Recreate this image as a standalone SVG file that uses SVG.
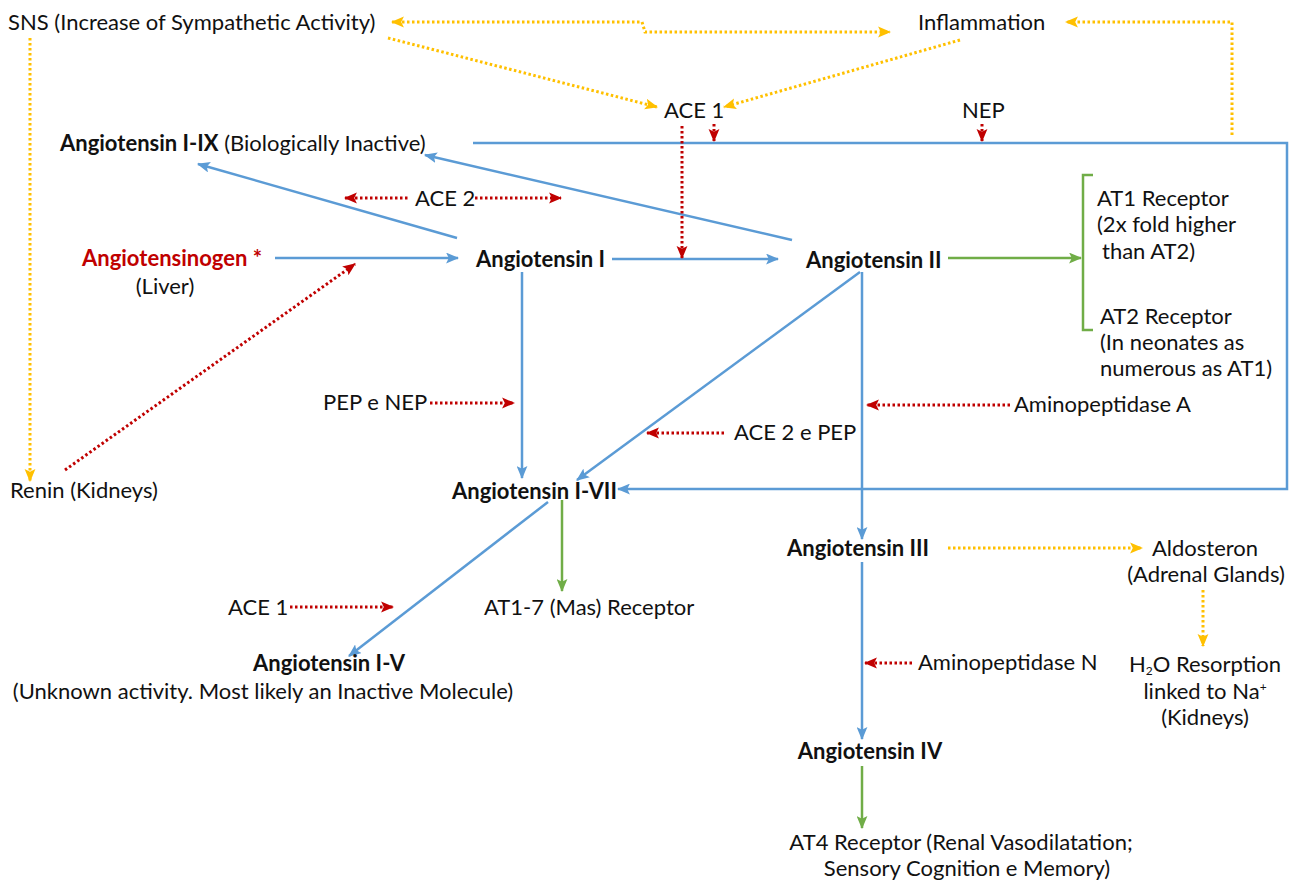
<svg xmlns="http://www.w3.org/2000/svg" width="1289" height="881" viewBox="0 0 1289 881">
<style>
text{font-family:Lato,"Liberation Sans",sans-serif;font-size:22px;fill:#111}
.b{font-weight:bold}
.r{fill:#c00000}
.m{text-anchor:middle}
.blue{stroke:#5b9bd5;stroke-width:2.5;fill:none}
.green{stroke:#70ad47;stroke-width:2.5;fill:none}
.yel{stroke:#ffc000;stroke-width:3;fill:none;stroke-dasharray:2.5 2.5}
.red{stroke:#c00000;stroke-width:3;fill:none;stroke-dasharray:2.5 2.5}
</style>
<defs>
<marker id="ab" viewBox="0 0 12 10" refX="11" refY="5" markerWidth="13" markerHeight="11" markerUnits="userSpaceOnUse" orient="auto-start-reverse"><path d="M0,0 L12,5 L0,10 L2.5,5 z" fill="#5b9bd5"/></marker>
<marker id="ag" viewBox="0 0 12 10" refX="11" refY="5" markerWidth="13" markerHeight="11" markerUnits="userSpaceOnUse" orient="auto-start-reverse"><path d="M0,0 L12,5 L0,10 L2.5,5 z" fill="#70ad47"/></marker>
<marker id="ay" viewBox="0 0 12 10" refX="11" refY="5" markerWidth="13" markerHeight="12" markerUnits="userSpaceOnUse" orient="auto-start-reverse"><path d="M0,0 L12,5 L0,10 L2.5,5 z" fill="#ffc000"/></marker>
<marker id="ar" viewBox="0 0 12 10" refX="11" refY="5" markerWidth="13" markerHeight="13" markerUnits="userSpaceOnUse" orient="auto-start-reverse"><path d="M0,0 L12,5 L0,10 L2.5,5 z" fill="#c00000"/></marker>
</defs>
<rect width="1289" height="881" fill="#fff"/>
<g id="connectors">
<path class="yel" d="M392,22 H642 L645,32 H890" marker-start="url(#ay)" marker-end="url(#ay)"/>
<path class="yel" d="M1232,135 V22 H1066" marker-end="url(#ay)"/>
<path class="yel" d="M388,38 L657,107" marker-end="url(#ay)"/>
<path class="yel" d="M960,40 L724,107" marker-end="url(#ay)"/>
<path class="yel" d="M30,38 V481" marker-end="url(#ay)"/>
<path class="yel" d="M948,548 H1142" marker-end="url(#ay)"/>
<path class="yel" d="M1203,590 V646" marker-end="url(#ay)"/>
<path class="blue" d="M473,143 H1287 V489 H618" marker-end="url(#ab)"/>
<path class="blue" d="M457,238 L198,164" marker-end="url(#ab)"/>
<path class="blue" d="M792,240 L425,155" marker-end="url(#ab)"/>
<path class="blue" d="M275,258 H458" marker-end="url(#ab)"/>
<path class="blue" d="M612,259 H778" marker-end="url(#ab)"/>
<path class="blue" d="M522,272 V478" marker-end="url(#ab)"/>
<path class="blue" d="M860,272 L577,480" marker-end="url(#ab)"/>
<path class="blue" d="M862,272 V539" marker-end="url(#ab)"/>
<path class="blue" d="M548,502 L349,656" marker-end="url(#ab)"/>
<path class="blue" d="M862,562 V739" marker-end="url(#ab)"/>
<path class="green" d="M948,258 H1081" marker-end="url(#ag)"/>
<path class="green" d="M1093,175 H1083 V330 H1093"/>
<path class="green" d="M562,500 V591" marker-end="url(#ag)"/>
<path class="green" d="M862,766 V828" marker-end="url(#ag)"/>
<path class="red" d="M714,124 V141" marker-end="url(#ar)"/>
<path class="red" d="M982,124 V141" marker-end="url(#ar)"/>
<path class="red" d="M682,126 V258" marker-end="url(#ar)"/>
<path class="red" d="M345,198 H410 M475,198 H561" marker-start="url(#ar)" marker-end="url(#ar)"/>
<path class="red" d="M65,470 L355,264" marker-end="url(#ar)"/>
<path class="red" d="M430,403 H514" marker-end="url(#ar)"/>
<path class="red" d="M724,433 H647" marker-end="url(#ar)"/>
<path class="red" d="M1010,405 H867" marker-end="url(#ar)"/>
<path class="red" d="M290,607 H393" marker-end="url(#ar)"/>
<path class="red" d="M912,663 H865" marker-end="url(#ar)"/>
</g>
<g id="sns"><text x="8" y="30">SNS (Increase of Sympathetic Activity)</text></g>
<g id="inflammation"><text x="918" y="30">Inflammation</text></g>
<g id="ace1-top"><text x="664" y="118">ACE 1</text></g>
<g id="nep"><text x="962" y="118">NEP</text></g>
<g id="ang1-9"><text x="60" y="151"><tspan class="b">Angiotensin I-IX</tspan> (Biologically Inactive)</text></g>
<g id="ace2"><text x="415" y="206">ACE 2</text></g>
<g id="angiotensinogen"><text x="82" y="266" class="b r">Angiotensinogen *</text><text x="165" y="294" class="m">(Liver)</text></g>
<g id="ang1"><text x="476" y="267" class="b">Angiotensin I</text></g>
<g id="ang2"><text x="806" y="268" class="b">Angiotensin II</text></g>
<g id="at1"><text x="1097" y="206">AT1 Receptor</text><text x="1097" y="232">(2x fold higher</text><text x="1102" y="259">than AT2)</text></g>
<g id="at2"><text x="1100" y="324">AT2 Receptor</text><text x="1100" y="350">(In neonates as</text><text x="1100" y="376">numerous as AT1)</text></g>
<g id="pep-nep"><text x="323" y="410">PEP e NEP</text></g>
<g id="aminoA"><text x="1014" y="412">Aminopeptidase A</text></g>
<g id="ace2-pep"><text x="734" y="440">ACE 2 e PEP</text></g>
<g id="renin"><text x="10" y="498">Renin (Kidneys)</text></g>
<g id="ang1-7"><text x="452" y="499" class="b">Angiotensin I-VII</text></g>
<g id="ang3"><text x="787" y="556" class="b">Angiotensin III</text></g>
<g id="aldosteron"><text x="1205" y="556" class="m">Aldosteron</text><text x="1206" y="582" class="m">(Adrenal Glands)</text></g>
<g id="at1-7"><text x="484" y="615">AT1-7 (Mas) Receptor</text></g>
<g id="ace1-bottom"><text x="228" y="615">ACE 1</text></g>
<g id="ang1-5"><text x="329" y="671" class="b m">Angiotensin I-V</text><text x="263" y="699" class="m">(Unknown activity. Most likely an Inactive Molecule)</text></g>
<g id="h2o"><text x="1205" y="672" class="m">H<tspan font-size="12" dy="3">2</tspan><tspan dy="-3">O Resorption</tspan></text><text x="1205" y="699" class="m">linked to Na<tspan font-size="12" dy="-8">+</tspan></text><text x="1205" y="725" class="m">(Kidneys)</text></g>
<g id="aminoN"><text x="918" y="670">Aminopeptidase N</text></g>
<g id="ang4"><text x="870" y="759" class="b m">Angiotensin IV</text></g>
<g id="at4"><text x="961" y="850" class="m">AT4 Receptor (Renal Vasodilatation;</text><text x="967" y="876" class="m">Sensory Cognition e Memory)</text></g>
</svg>
